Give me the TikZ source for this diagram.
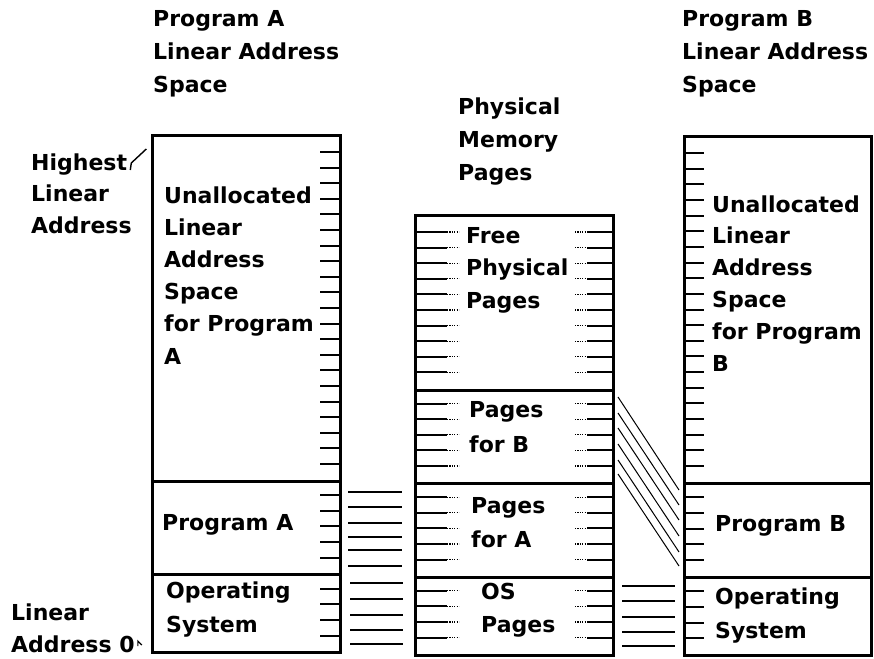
\documentclass[tikz,border=0pt]{standalone}
\usepackage{fontspec}
\setmainfont{DejaVu Sans}
\tikzset{
  lbl/.style={anchor=base west, inner sep=0pt, font=\fontsize{22}{26}\selectfont\bfseries},
  frame/.style={line width=3pt},
  tick/.style={line width=2pt},
  dots/.style={line width=1.2pt, dash pattern=on 1.2pt off 1.2pt},
  link/.style={line width=2pt},
  diag/.style={line width=1pt},
  leader/.style={line width=1.4pt},
}
\newcommand\textblock[5]{%
  \foreach \t [count=\i] in {#5} {\node[lbl] (#1-\i) at (#2, {#3+(\i-1)*#4}) {\t};}}
\begin{document}
\begin{tikzpicture}[x=1pt,y=-1pt]
\useasboundingbox (0,0) rectangle (874,658);

% ---------- column A ----------
\draw[frame] (152,135) rectangle (340,652);
\draw[frame] (152,481) -- (340,481);
\draw[frame] (152,574) -- (340,574);
\foreach \k in {0,1,2,3,4,5,6,7,8,9,10,11,12,13,14,15,16,17,18,19,20,22,23,24,25,26,28,29,30,31}
  \draw[tick] (320,{152+15.6*\k}) -- (340,{152+15.6*\k});

% ---------- middle column ----------
\draw[frame] (415,215) rectangle (613,655);
\draw[frame] (415,390) -- (613,390);
\draw[frame] (415,483) -- (613,483);
\draw[frame] (415,577) -- (613,577);
\foreach \k in {0,1,2,3,4,5,6,7,8,9,11,12,13,14,15,17,18,19,20,21,23,24,25,26} {
  \draw[tick] (415,{232+15.6*\k}) -- (447,{232+15.6*\k});
  \draw[dots] (447,{232+15.6*\k}) -- (459,{232+15.6*\k});
  \draw[dots] (575,{232+15.6*\k}) -- (587,{232+15.6*\k});
  \draw[tick] (587,{232+15.6*\k}) -- (613,{232+15.6*\k});
}

% ---------- column B ----------
\draw[frame] (684,136) rectangle (871,655);
\draw[frame] (684,483) -- (871,483);
\draw[frame] (684,577) -- (871,577);
\foreach \k in {0,1,2,3,4,5,6,7,8,9,10,11,12,13,14,15,16,17,18,19,20,22,23,24,25,26,28,29,30,31}
  \draw[tick] (684,{153+15.65*\k}) -- (704,{153+15.65*\k});

% ---------- mappings ----------
\foreach \y in {491.7,507.3,522.7,536.7,550,565.7}
  \draw[link] (348,\y) -- (402,\y);
\foreach \y in {583.3,599,615,630,644}
  \draw[link] (350,\y) -- (403,\y);
\foreach \y in {586,601,617,632,646}
  \draw[link] (622,\y) -- (675,\y);
\foreach \a/\b in {397/490,413/505,428/520,444/536,460/552,474/566}
  \draw[diag] (618,\a) -- (679,\b);

% ---------- texts ----------
\textblock{pa}{153}{27}{33}{Program A,Linear Address,Space}
\textblock{pb}{682}{27}{33}{Program B,Linear Address,Space}
\textblock{pm}{458}{114}{33}{Physical,Memory,Pages}
\textblock{hi}{31}{170}{31.5}{Highest,Linear,Address}
\textblock{lo}{11}{620}{32}{Linear,Address 0}
\textblock{ua}{164}{203}{32.2}{Unallocated,Linear,Address,Space,for Program,A}
\textblock{ub}{712}{212}{31.8}{Unallocated,Linear,Address,Space,for Program,B}
\node[lbl] (prA) at (162,530) {Program A};
\textblock{osa}{166}{598}{34}{Operating,System}
\node[lbl] (prB) at (715,531) {Program B};
\textblock{osb}{715}{604}{34}{Operating,System}
\textblock{fr}{466}{243}{32.5}{Free,Physical,Pages}
\textblock{pgb}{469}{417}{35}{Pages,for B}
\textblock{pga}{471}{513}{34}{Pages,for A}
\textblock{osp}{481}{599}{33}{OS,Pages}

% ---------- leaders ----------
\draw[leader] ([xshift=3pt]hi-1.base east) -- ++(1,-7) -- ++(15,-14);
\draw[line width=1.2pt] ([xshift=3pt,yshift=6pt]lo-2.base east) -- ++(0,-5) -- ++(4,4);
\end{tikzpicture}
\end{document}
